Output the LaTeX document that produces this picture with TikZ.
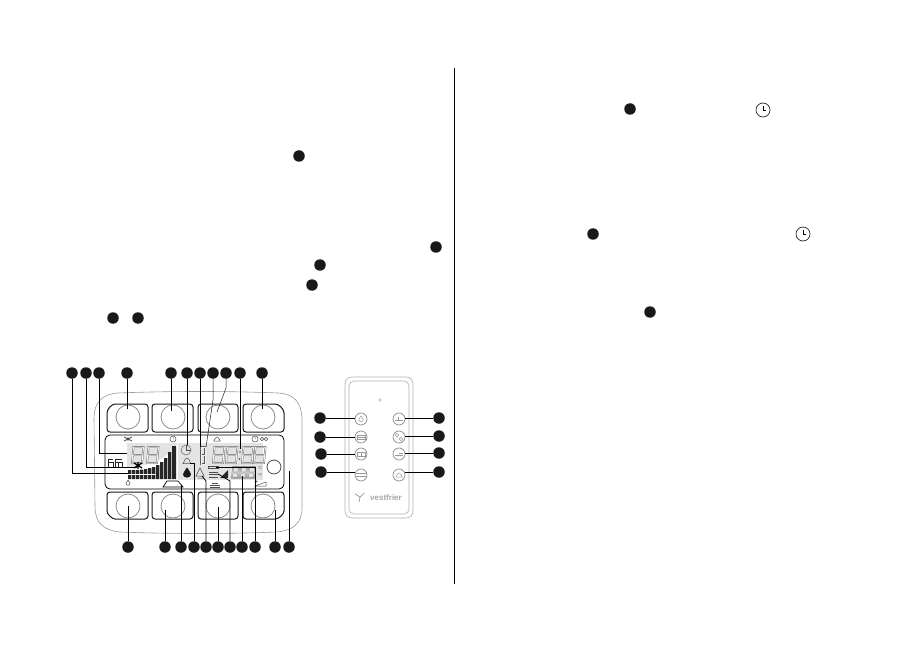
\documentclass[tikz,border=0pt]{standalone}
\usepackage{fontspec}
\setmainfont{Liberation Sans}
\usetikzlibrary{shapes, arrows.meta, positioning, calc}

\tikzset{
    lcdeight/.pic={
        \draw[lcdseg] (1.5,0) -- (11.5,0) -- (10,16) -- (0,16) -- cycle (0.75,8) -- (10.75,8);
    },
    lcdsmall/.pic={
        \draw[lcdseg, double distance=0.5pt] (1,0) -- (7,0) -- (6,11) -- (0,11) -- cycle (0.5,5.5) -- (6.5,5.5);
    },
    dropicon/.pic={
        \draw[pic actions] (0,-3.5) .. controls (1,-1.5) and (2.5,-0.5) .. (2.5,1) .. controls (2.5,3.5) and (-2.5,3.5) .. (-2.5,1) .. controls (-2.5,-0.5) and (-1,-1.5) .. (0,-3.5);
    },
    bellicon/.pic={
        \draw[pic actions] (-4.5,3) .. controls (-3,2) and (-3,-3) .. (0,-3) .. controls (3,-3) and (3,2) .. (4.5,3) -- cycle;
    }
}

\begin{document}
\begin{tikzpicture}[
        x=1pt, y=-1pt,
        callout/.style={circle, fill=black!90, minimum size=11.5pt, inner sep=0pt},
        clockface/.style={circle, draw=black!85, line width=0.7pt, fill=white, minimum size=14pt, inner sep=0pt},
        keyb/.style={draw=black!90, line width=1pt, rounded corners=3pt, fill=white},
        knob/.style={circle, draw=black!45, line width=0.8pt, fill=white, minimum size=24pt, inner sep=0pt},
        rbtn/.style={circle, draw=black!45, line width=0.7pt, fill=white, minimum size=12pt, inner sep=0pt},
        lead/.style={draw=black, line width=0.8pt},
        thinlead/.style={draw=black!90, line width=0.5pt},
        shell/.style={draw=black!40, line width=0.6pt},
        lcdseg/.style={draw=black!65, double=black!5, line width=0.35pt, double distance=1pt, line join=miter},
        icon/.style={draw=black!70, line width=0.5pt},
        ricon/.style={draw=black!40, line width=0.5pt}
    ]
    \useasboundingbox (0,0) rectangle (907,652);
    \fill[white] (0,0) rectangle (907,652);

    % ----------------------------------------------------
    % PAGE (Column Rule, Markers In The Text)
    % ----------------------------------------------------
    \coordinate (ruletop) at (454,68);
    \coordinate (rulebot) at (454,584);
    \draw[black, line width=0.9pt] (ruletop) -- (rulebot);

    \node[callout] (m1) at (299,156) {};
    \node[callout] (m2) at (436,247) {};
    \node[callout] (m3) at (320,265) {};
    \node[callout] (m4) at (312,285) {};
    \node[callout] (m5) at (113,318) {};
    \node[callout] (m6) at (138,318) {};
    \node[callout] (m7) at (630,109) {};
    \node[callout] (m8) at (593,234) {};
    \node[callout] (m9) at (650,312) {};

    \node[clockface] (clocka) at (763,110) {};
    \node[clockface] (clockb) at (803,234) {};
    \draw[icon, draw=black] ($(clocka)+(0,-4)$) -- (clocka.center) -- ($(clocka)+(3,0)$);
    \draw[icon, draw=black] ($(clockb)+(0,-4)$) -- (clockb.center) -- ($(clockb)+(3,0)$);

    % ----------------------------------------------------
    % CONTROL PANEL (Housing, Keys, Knobs)
    % ----------------------------------------------------
    \draw[shell] (118,393) .. controls (170,391) and (230,391) .. (278,393) .. controls (295,394) and (301,403) .. (302,418) -- (302,508) .. controls (302,524) and (292,531) .. (276,532) .. controls (230,534) and (170,534) .. (120,532) .. controls (102,530) and (95,522) .. (95,506) -- (94,418) .. controls (94,403) and (102,394) .. (118,393);

    \draw[keyb] (107,416) -- (107,432) -- (148,432) -- (148,404) -- (118,404) .. controls (112,404) and (107,409) .. (107,416) -- cycle;
    \draw[keyb] (152,404) rectangle (193,432);
    \draw[keyb] (198,404) rectangle (238,432);
    \draw[keyb] (284,416) -- (284,432) -- (243,432) -- (243,404) -- (272,404) .. controls (279,404) and (284,409) .. (284,416) -- cycle;
    \draw[keyb] (107,492) -- (148,492) -- (148,519) -- (118,519) .. controls (112,519) and (107,514) .. (107,508) -- cycle;
    \draw[keyb] (152,492) rectangle (193,519);
    \draw[keyb] (198,492) rectangle (238,519);
    \draw[keyb] (243,492) -- (284,492) -- (284,508) .. controls (284,514) and (279,519) .. (272,519) -- (243,519) -- cycle;

    \node[knob] (ka) at (128,417) {};
    \node[knob] (kb) at (173,417) {};
    \node[knob] (kc) at (218,417) {};
    \node[knob] (kd) at (263,417) {};
    \node[knob] (ke) at (128,506) {};
    \node[knob] (kf) at (173,506) {};
    \node[knob] (kg) at (218,506) {};
    \node[knob] (kh) at (263,506) {};

    % ----------------------------------------------------
    % DISPLAY (Frame, Segments, Bars, Symbols)
    % ----------------------------------------------------
    \draw[draw=black, line width=0.8pt, rounded corners=5pt] (105,435) rectangle (284,489);
    \fill[black!11] (127,443) rectangle (263,480);
    \fill[white] (127,468) .. controls (150,466) and (170,458) .. (178,443) -- (178,480) -- (127,480) -- cycle;
    \node[circle, draw=black!70, line width=0.8pt, fill=white, minimum size=14pt, inner sep=0pt] (lamp) at (274,467) {};

    % Segment Digits
    \pic at (132,447) {lcdeight};
    \pic at (147,447) {lcdeight};
    \pic at (213,447) {lcdeight};
    \pic at (226,447) {lcdeight};
    \pic at (242,447) {lcdeight};
    \pic at (254,447) {lcdeight};
    \pic at (232,467) {lcdsmall};
    \pic at (240,467) {lcdsmall};
    \pic at (248,467) {lcdsmall};
    \fill[black!70] (240,452) circle (0.8) (239.5,459) circle (0.8);
    \draw[lcdseg] (201,447) rectangle (205,455) (201,455) rectangle (205,464);

    % Level Bars
    \fill[black!85] (128,470) rectangle (131.3,479) (132,470) rectangle (135.3,479) (136,470) rectangle (139.3,479) (140,469.5) rectangle (143.3,479) (144,469) rectangle (147.3,479) (148,468) rectangle (151.3,479) (152,467) rectangle (155.3,479) (156,465) rectangle (159.3,479) (160,462) rectangle (163.3,479) (164,458) rectangle (167.3,479) (168,452) rectangle (171.3,479) (172,446) rectangle (176,479);
    \draw[white, line width=0.5pt] (127,474.5) -- (156,474.5);
    \fill[black!85] (220,478) -- (228,470) -- (228,478) -- cycle;

    % Symbols Inside
    \node[circle, draw=black!60, line width=0.5pt, minimum size=10pt, inner sep=0pt] (lcdclock) at (186,450) {};
    \draw[icon] (lcdclock.north) -- (lcdclock.center) -- (lcdclock.east);
    \pic[icon, scale=0.9] at (187,461) {bellicon};
    \pic[fill=black!90, draw=black!90, scale=1.5] at (187,473) {dropicon};
    \draw[icon] (200,468) -- (204,476) -- (196,476) -- cycle (198,478) -- (203,478);
    \draw[icon] (208,466) rectangle (218,468.5);
    \draw[icon] (209,472) -- (218,472) (209,474.5) -- (218,474.5) (209,477) -- (218,477);
    \draw[icon, draw=black, line width=1.2pt] (134,463) -- (142,468) (142,463) -- (134,468) (138,462) -- (138,469);
    \node[font=\fontsize{4}{4}\selectfont, text=black!70, inner sep=0pt] (degc) at (260,468) {°C};
    \node[font=\fontsize{4}{4}\selectfont, text=black!70, inner sep=0pt] (degf) at (260,475) {°F};

    % Symbols Around
    \draw[icon, line width=0.8pt] (124,437) -- (132,441) (132,437) -- (124,441) (128,437) -- (128,441);
    \draw[icon] (173,439) circle (3) (173,437) -- (173,439);
    \pic[icon, scale=0.7] at (217,439) {bellicon};
    \draw[icon] (255,439) circle (3) (255,437) -- (255,439);
    \draw[icon] (262,439) circle (1.8) (266,439) circle (1.8);
    \draw[icon, draw=black!85, line width=0.9pt] (115,459) -- (122,459) (115,462) -- (122,462) (115,459) -- (115,467) (118,462) -- (118,467) (122,462) -- (122,467);
    \draw[icon, draw=black!85, line width=0.9pt] (108,459) -- (113,459) (108,462) -- (113,462) (108,459) -- (108,467) (113,462) -- (113,467);
    \pic[icon, scale=0.8] at (128,483) {dropicon};
    \draw[icon, draw=black, line width=0.7pt] (163,487) -- (167,481) -- (178,481) -- (183,487) -- cycle;
    \draw[icon] (210,485) -- (220,485) (212,483) -- (218,483) (210,487) -- (220,487);
    \draw[icon] (255,486) -- (266,486) -- (266,482) -- cycle (256,480) -- (256,483) (254.5,481.5) -- (257.5,481.5);

    % ----------------------------------------------------
    % PANEL CALLOUTS (Top Row, Bottom Row)
    % ----------------------------------------------------
    \node[callout] (ta) at (72,373) {};
    \node[callout] (tb) at (86,373) {};
    \node[callout] (tc) at (99,373) {};
    \node[callout] (td) at (127,373) {};
    \node[callout] (te) at (171,373) {};
    \node[callout] (tf) at (187,373) {};
    \node[callout] (tg) at (200,373) {};
    \node[callout] (th) at (213,373) {};
    \node[callout] (ti) at (226,373) {};
    \node[callout] (tj) at (240,373) {};
    \node[callout] (tk) at (262,373) {};

    \node[callout] (ba) at (128,547) {};
    \node[callout] (bb) at (165,547) {};
    \node[callout] (bc) at (181,547) {};
    \node[callout] (bd) at (194,547) {};
    \node[callout] (be) at (206,547) {};
    \node[callout] (bf) at (218,547) {};
    \node[callout] (bg) at (230,547) {};
    \node[callout] (bh) at (242,547) {};
    \node[callout] (bi) at (255,547) {};
    \node[callout] (bj) at (275,547) {};
    \node[callout] (bk) at (289,547) {};

    \coordinate (fa) at (129,473);
    \coordinate (fb) at (137,467);
    \coordinate (fc) at (127,453);
    \coordinate (ff) at (187,445);
    \coordinate (fg) at (200,447);
    \coordinate (fh) at (213,400);
    \coordinate (fhe) at (206,447);
    \coordinate (fi) at (226,388);
    \coordinate (fie) at (217,412);
    \coordinate (fj) at (240,449);
    \coordinate (gc) at (181,485);
    \coordinate (gd) at (190,463);
    \coordinate (ge) at (206,481);
    \coordinate (gee) at (202,476);
    \coordinate (gg) at (230,481);
    \coordinate (gge) at (218,474);
    \coordinate (gh) at (242,476);
    \coordinate (gi) at (255,467);
    \coordinate (gie) at (216,467);
    \coordinate (gk) at (289,471);

    \draw[lead] (ta) |- (fa);
    \draw[lead] (tb) |- (fb);
    \draw[lead] (tc) |- (fc);
    \draw[lead] (td) -- ($(ka)+(-1,-8)$);
    \draw[lead] (te) -- ($(kb)+(-2,-6)$);
    \draw[lead] (tf) -- (ff);
    \draw[lead] (tg) -- (fg);
    \draw[thinlead] (th) -- (fh) -- (fhe);
    \draw[thinlead] (ti) -- (fi) -- (fie);
    \draw[lead] (tj) -- (fj);
    \draw[lead] (tk) -- ($(kd)+(-1,-8)$);

    \draw[lead] (ba) -- ($(ke)+(0,0)$);
    \draw[lead] (bb) -- ($(kf)+(-8,4)$);
    \draw[lead] (bc) -- (gc);
    \draw[lead] (bd) |- (gd);
    \draw[lead] (be) -- (ge) -- (gee);
    \draw[lead] (bf) -- ($(kg)+(0,1)$);
    \draw[lead] (bg) -- (gg) -- (gge);
    \draw[lead] (bh) -- (gh);
    \draw[lead] (bi) |- (gie);
    \draw[lead] (bj) -- ($(kh)+(12,4)$);
    \draw[lead] (bk) -- (gk);

    % ----------------------------------------------------
    % REMOTE (Body, Buttons, Callouts)
    % ----------------------------------------------------
    \draw[shell, draw=black!30, rounded corners=7pt] (345,377) rectangle (413,518);
    \draw[shell, draw=black!30, rounded corners=5pt] (349,381) rectangle (409,514);
    \node[circle, draw=black!30, line width=0.4pt, minimum size=2.5pt, inner sep=0pt] (irled) at (380,400) {};

    \node[rbtn] (la) at (361,419) {};
    \node[rbtn] (lb) at (361,437) {};
    \node[rbtn] (lc) at (361,454) {};
    \node[rbtn] (ld) at (361,475) {};
    \node[rbtn] (ra) at (399,419) {};
    \node[rbtn] (rb) at (399,437) {};
    \node[rbtn] (rc) at (399,454) {};
    \node[rbtn] (rd) at (399,475) {};

    \pic[ricon, scale=0.9] at (361,419) {dropicon};
    \draw[ricon] (357,435) rectangle (365,439) (357,437) -- (365,437);
    \draw[ricon] (357,452) rectangle (365,456) (361,452) -- (361,456);
    \draw[ricon, line width=0.9pt] (355.5,473.5) -- (366.5,473.5) (355.5,476.5) -- (366.5,476.5);
    \draw[ricon] (395,420) -- (403,420) (398,417) -- (398,420);
    \draw[ricon] (397,435) circle (1.8) (401,439) circle (1.8);
    \draw[ricon] (395,455) -- (403,455) (399,453) -- (403,453);
    \pic[ricon, scale=0.7] at (399,475) {bellicon};

    \node[callout] (pa) at (320,418) {};
    \node[callout] (pb) at (320,437) {};
    \node[callout] (pc) at (321,454) {};
    \node[callout] (pd) at (321,472) {};
    \node[callout] (qa) at (439,418) {};
    \node[callout] (qb) at (439,436) {};
    \node[callout] (qc) at (439,453) {};
    \node[callout] (qd) at (439,472) {};

    \draw[lead] (pa) -- (pa -| la.west);
    \draw[lead] (pb) -- (pb -| lb.west);
    \draw[lead] (pc) -- (pc -| lc.west);
    \draw[lead] (pd) -- (pd -| ld.west);
    \draw[lead] (qa) -- (qa -| ra.east);
    \draw[lead] (qb) -- (qb -| rb.east);
    \draw[lead] (qc) -- (qc -| rc.east);
    \draw[lead] (qd) -- (qd -| rd.east);

    \draw[ricon, line width=0.7pt] (355,494) -- (360,497) -- (364,493) (360,497) -- (359,502);
    \node[font=\fontsize{8}{8}\selectfont\bfseries, text=black!35, inner sep=0pt] (logo) at (386,498) {vestfrier};
\end{tikzpicture}
\end{document}
